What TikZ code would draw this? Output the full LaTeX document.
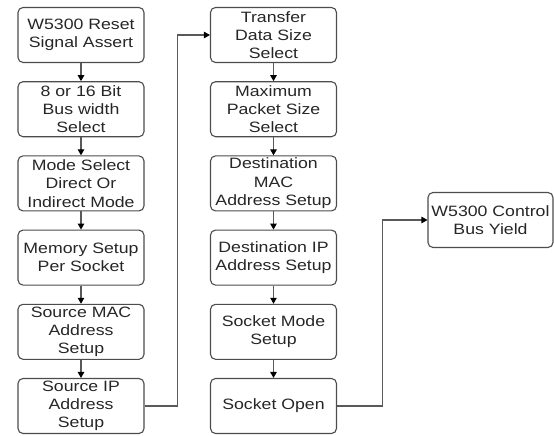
\documentclass[tikz,border=0pt]{standalone}
\usepackage{fontspec}
\setmainfont{Liberation Sans}[FakeStretch=1.18]
\usetikzlibrary{arrows.meta}
\begin{document}
\begin{tikzpicture}[x=1pt,y=-1pt,
  box/.style={draw=black!70, line width=1.1pt, rounded corners=5pt,
    minimum width=126pt, minimum height=55pt, align=center, inner sep=0pt,
    text=black!85, font=\fontsize{15}{18.3}\selectfont},
  conn/.style={draw=black!65, line width=1.1pt,
    -{Triangle[length=6pt,width=6.5pt,color=black]}}]
\useasboundingbox (0,0) rectangle (554,436);
% left column
\node[box] (a1) at (81,35)    {W5300 Reset\\Signal Assert};
\node[box] (a2) at (81,109.2) {8 or 16 Bit\\Bus width\\Select};
\node[box] (a3) at (81,183.4) {Mode Select\\Direct Or\\Indirect Mode};
\node[box] (a4) at (81,257.6) {Memory Setup\\Per Socket};
\node[box] (a5) at (81,331.8) {Source MAC\\Address\\Setup};
\node[box] (a6) at (81,406)   {Source IP\\Address\\Setup};
% middle column
\node[box] (b1) at (273.5,35)    {Transfer\\Data Size\\Select};
\node[box] (b2) at (273.5,109.2) {Maximum\\Packet Size\\Select};
\node[box] (b3) at (273.5,183.4) {Destination\\MAC\\Address Setup};
\node[box] (b4) at (273.5,257.6) {Destination IP\\Address Setup};
\node[box] (b5) at (273.5,331.8) {Socket Mode\\Setup};
\node[box] (b6) at (273.5,406)   {Socket Open};
% right
\node[box, minimum width=125pt] (c1) at (490.5,220) {W5300 Control\\Bus Yield};
% connectors
\foreach \i/\j in {1/2,2/3,3/4,4/5,5/6}{
  \draw[conn] (a\i) -- (a\j);
  \draw[conn] (b\i) -- (b\j);
}
\draw[conn] (a6.east) -- ++(33,0) |- (b1.west);
\draw[conn] (b6.east) -- ++(45,0) |- (c1.west);
\end{tikzpicture}
\end{document}
